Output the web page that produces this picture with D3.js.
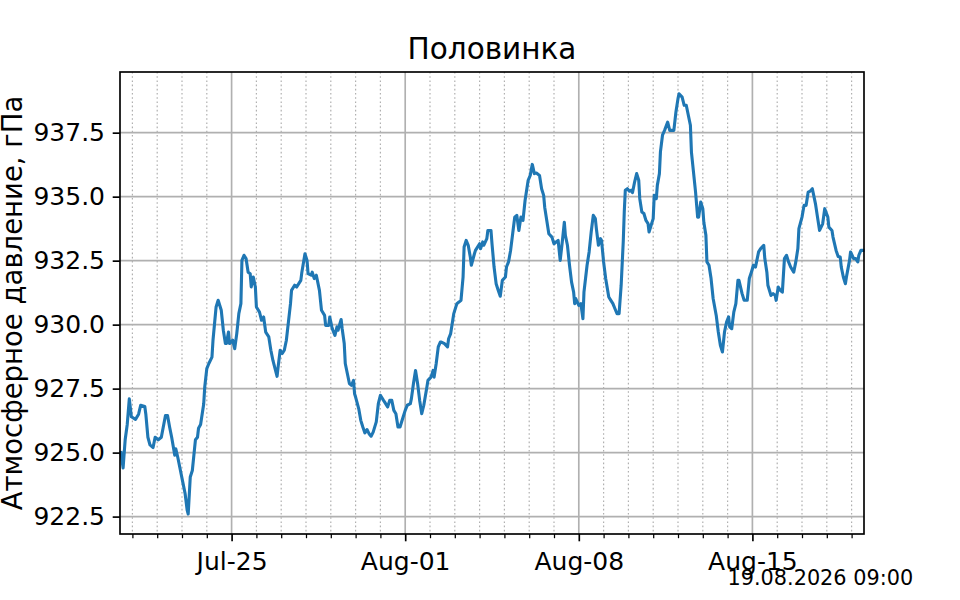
<!DOCTYPE html>
<html lang="ru">

<head>
    <meta charset="UTF-8">
    <title>Половинка</title>
    <script src='https://d3js.org/d3.v7.min.js'></script>
    <style>
        body { margin: 0; background: #fff; }
        text { font-family: "DejaVu Sans", sans-serif; fill: #000; }
    </style>
</head>

<body>
    <script>
        // Station and labels
        const stationName = "Половинка";
        const yLabel = "Атмосферное давление, гПа";
        const stampText = "19.08.2026 09:00";

        // hours counted from 20.07.2026 12:00
        const hours = [
            1, 3, 5, 7, 9, 11, 15, 18, 20, 24, 25, 27, 29, 32, 34, 37, 40, 44, 46, 48,
            50, 53, 54, 56, 58, 61, 63, 65, 66, 68, 70, 73, 75, 76, 78, 81, 82, 84, 86, 89,
            90, 93, 95, 98, 100, 102, 103, 105, 106, 109, 111, 113, 115, 117, 118, 120, 122, 124, 126, 127,
            129, 131, 132, 135, 137, 139, 141, 144, 146, 148, 152, 153, 155, 157, 159, 161, 165, 166, 169, 171,
            173, 175, 176, 179, 181, 182, 185, 186, 188, 190, 193, 195, 198, 199, 202, 203, 205, 206, 208, 210,
            211, 214, 215, 217, 218, 220, 222, 224, 226, 227, 228, 231, 233, 235, 237, 239, 241, 243, 245, 248,
            250, 252, 255, 256, 259, 261, 263, 265, 267, 269, 271, 274, 276, 278, 281, 282, 284, 286, 288, 290,
            292, 294, 297, 298, 301, 303, 304, 306, 308, 310, 311, 314, 317, 318, 320, 322, 323, 326, 328, 330,
            332, 333, 335, 337, 339, 340, 343, 344, 346, 348, 349, 351, 352, 355, 356, 359, 360, 362, 364, 366,
            368, 370, 373, 374, 376, 378, 380, 382, 384, 386, 388, 390, 392, 395, 397, 399, 401, 403, 406, 408,
            410, 411, 413, 415, 418, 420, 422, 424, 426, 428, 430, 431, 433, 435, 437, 439, 440, 441, 444, 446,
            448, 449, 452, 454, 456, 458, 460, 461, 463, 465, 466, 468, 470, 473, 475, 477, 479, 481, 483, 485,
            487, 488, 489, 491, 493, 495, 496, 498, 500, 502, 503, 505, 507, 509, 511, 512, 514, 516, 517, 519,
            520, 522, 523, 525, 527, 530, 532, 534, 536, 538, 540, 541, 544, 546, 548, 552, 553, 555, 557, 559,
            560, 562, 564, 565, 567, 568, 570, 572, 574, 577, 579, 581, 583, 585, 587, 589, 590, 592, 594, 596,
            598, 599, 602, 604, 607, 609, 611, 613, 615, 616, 618, 620, 623, 624, 626, 627, 630, 632, 634, 635,
            637, 639, 641, 643, 645, 647, 649, 652, 654, 656, 657, 660, 662, 664, 666, 668, 670, 673, 675, 677,
            680, 682, 685, 686, 689, 690, 693, 695, 697, 698, 700, 702, 703, 706, 707, 710, 712, 714, 715, 717,
            719
        ];

        // pressure, hPa
        const pressure = [
            925.0, 924.4, 925.5, 926.1, 927.1, 926.4, 926.3, 926.5, 926.85, 926.8, 926.5, 925.6, 925.3, 925.2, 925.6, 925.5, 925.6, 926.45, 926.45, 926.0,
            925.6, 924.9, 925.15, 924.8, 924.4, 923.8, 923.4, 922.75, 922.6, 924.05, 924.3, 925.5, 925.6, 925.95, 926.1, 926.9, 927.56, 928.28, 928.48, 928.73,
            929.39, 930.69, 930.95, 930.56, 929.78, 929.26, 929.26, 929.71, 929.26, 929.39, 929.06, 929.65, 930.43, 930.82, 932.51, 932.71, 932.58, 932.05, 931.99, 931.47,
            931.86, 931.47, 930.69, 930.49, 930.17, 930.3, 929.71, 929.52, 929.0, 928.6, 927.98, 928.34, 929.0, 928.87, 929.0, 929.39, 930.82, 931.34, 931.54, 931.47,
            931.6, 931.73, 932.05, 932.77, 932.51, 931.99, 931.93, 932.05, 931.8, 931.93, 931.34, 930.56, 930.36, 929.97, 929.97, 930.3, 929.91, 929.78, 929.58, 929.91,
            929.78, 930.2, 929.84, 929.26, 928.48, 928.09, 927.7, 927.63, 927.82, 927.3, 927.17, 926.72, 926.26, 926.0, 925.77, 925.9, 925.74, 925.64, 925.8, 926.2,
            926.91, 927.24, 927.04, 926.98, 926.78, 927.04, 927.04, 926.65, 926.52, 926.0, 926.0, 926.39, 926.65, 926.85, 926.91, 927.11, 927.7, 928.21, 927.7, 927.04,
            926.52, 926.85, 927.56, 927.82, 927.95, 928.21, 927.95, 928.48, 929.13, 929.32, 929.32, 929.26, 929.13, 929.45, 929.65, 930.17, 930.43, 930.82, 930.88, 930.95,
            931.86, 933.03, 933.29, 933.1, 932.64, 932.32, 932.77, 932.9, 933.03, 933.16, 932.97, 933.23, 933.1, 933.36, 933.68, 933.68, 933.16, 932.25, 931.6, 931.34,
            931.11, 931.73, 931.86, 932.25, 932.45, 932.9, 933.55, 934.2, 934.27, 933.68, 934.2, 934.07, 934.85, 935.64, 935.83, 936.26, 935.9, 935.92, 935.83, 935.31,
            935.05, 934.59, 934.07, 933.55, 933.42, 933.16, 933.23, 933.29, 932.51, 933.23, 934.0, 933.49, 933.1, 932.32, 931.66, 931.27, 930.82, 931.02, 930.75, 930.82,
            930.23, 931.27, 932.32, 932.84, 933.62, 934.27, 934.14, 933.75, 933.1, 933.36, 933.29, 932.45, 931.8, 931.08, 930.95, 930.82, 930.62, 930.43, 930.43, 931.54,
            933.23, 934.4, 935.25, 935.31, 935.21, 935.25, 935.16, 935.57, 935.9, 935.64, 934.92, 934.4, 934.34, 934.07, 933.95, 933.62, 933.88, 934.14, 935.05, 934.92,
            935.44, 935.9, 936.75, 937.4, 937.59, 937.91, 937.59, 937.59, 937.59, 938.31, 938.83, 939.02, 938.89, 938.57, 938.57, 937.79, 936.74, 935.96, 935.18, 934.2,
            934.2, 934.79, 934.53, 934.0, 933.49, 932.45, 932.32, 931.8, 931.02, 930.36, 929.71, 929.19, 928.93, 929.71, 930.1, 930.3, 929.91, 929.84, 930.49, 930.82,
            931.73, 931.73, 931.21, 930.95, 930.95, 931.8, 932.05, 932.32, 932.25, 932.45, 932.84, 932.97, 933.1, 932.58, 932.05, 931.54, 931.14, 931.21, 931.14, 930.95,
            931.47, 931.34, 931.27, 932.58, 932.71, 932.45, 932.25, 932.05, 932.45, 932.97, 933.75, 934.2, 934.66, 934.66, 935.18, 935.22, 935.31, 934.73, 934.2, 933.68,
            933.94, 934.53, 934.2, 933.81, 933.68, 933.42, 932.9, 932.66, 932.64, 932.25, 931.86, 931.6, 931.86, 932.51, 932.84, 932.58, 932.58, 932.45, 932.71, 932.9,
            932.9
        ];

        // axis ticks
        const yTicks = [922.5, 925.0, 927.5, 930.0, 932.5, 935.0, 937.5];
        const xTickDates = ["2026-07-25", "2026-08-01", "2026-08-08", "2026-08-15"];

        const startTime = new Date(2026, 6, 20, 12, 0);
        const endTime = d3.timeHour.offset(startTime, 720);

        const data = hours.map((h, i) => ({ t: d3.timeHour.offset(startTime, h), v: pressure[i] }));

        // Set Dimensions
        const xSize = 960; const ySize = 600;
        const margin = { top: 72, right: 96, bottom: 66, left: 120 };
        const xMax = xSize - margin.left - margin.right;
        const yMax = ySize - margin.top - margin.bottom;

        const svgRoot = d3.select("body")
            .append("svg")
            .attr("width", xSize)
            .attr("height", ySize);

        svgRoot.append("rect").attr("width", xSize).attr("height", ySize).attr("fill", "#fff");

        const svg = svgRoot.append("g")
            .attr("transform", "translate(" + margin.left + "," + margin.top + ")");

        const x = d3.scaleTime().domain([startTime, endTime]).range([0, xMax]);
        const y = d3.scaleLinear().domain([921.82, 939.87]).range([yMax, 0]);

        const majorDates = xTickDates.map(s => d3.timeParse("%Y-%m-%d")(s));
        // one minor tick per day, majors excluded
        const minorDates = d3.timeDay.range(d3.timeDay.ceil(startTime), endTime, 1)
            .filter(d => !majorDates.some(m => +m === +d));

        // minor grid (dotted, daily)
        svg.append("g")
            .selectAll("line")
            .data(minorDates)
            .join("line")
            .attr("x1", d => x(d)).attr("x2", d => x(d))
            .attr("y1", 0).attr("y2", yMax)
            .attr("stroke", "#b0b0b0")
            .attr("stroke-width", 1.2)
            .attr("stroke-dasharray", "1.6,2.6");

        // major grid
        svg.append("g")
            .selectAll("line")
            .data(majorDates)
            .join("line")
            .attr("x1", d => x(d)).attr("x2", d => x(d))
            .attr("y1", 0).attr("y2", yMax)
            .attr("stroke", "#b0b0b0")
            .attr("stroke-width", 1.67);
        svg.append("g")
            .selectAll("line")
            .data(yTicks)
            .join("line")
            .attr("x1", 0).attr("x2", xMax)
            .attr("y1", d => y(d)).attr("y2", d => y(d))
            .attr("stroke", "#b0b0b0")
            .attr("stroke-width", 1.67);

        // the line
        svg.append("path")
            .datum(data)
            .attr("fill", "none")
            .attr("stroke", "#1f77b4")
            .attr("stroke-width", 3.1)
            .attr("stroke-linejoin", "round")
            .attr("stroke-linecap", "square")
            .attr("d", d3.line()
                .x(d => x(d.t))
                .y(d => y(d.v)));

        // X Axis: minor ticks then major ticks
        svg.append("g")
            .attr("transform", "translate(0," + yMax + ")")
            .call(d3.axisBottom(x).tickValues(minorDates).tickSize(4.2).tickFormat(""))
            .call(g => g.select(".domain").remove())
            .call(g => g.selectAll(".tick line").attr("stroke", "#000").attr("stroke-width", 1.25));

        svg.append("g")
            .attr("transform", "translate(0," + yMax + ")")
            .call(d3.axisBottom(x).tickValues(majorDates).tickSize(7.3).tickPadding(11)
                .tickFormat(d3.timeFormat("%b-%d")))
            .call(g => g.select(".domain").remove())
            .call(g => g.selectAll(".tick line").attr("stroke", "#000").attr("stroke-width", 1.67))
            .call(g => g.selectAll(".tick text").attr("font-size", 25).attr("font-family", "DejaVu Sans").attr("fill", "#000"));

        // Y Axis
        svg.append("g")
            .call(d3.axisLeft(y).tickValues(yTicks).tickSize(7.3).tickPadding(7.7)
                .tickFormat(d3.format(".1f")))
            .call(g => g.select(".domain").remove())
            .call(g => g.selectAll(".tick line").attr("stroke", "#000").attr("stroke-width", 1.67))
            .call(g => g.selectAll(".tick text").attr("font-size", 25).attr("font-family", "DejaVu Sans").attr("fill", "#000"));

        // spines
        svg.append("rect")
            .attr("width", xMax).attr("height", yMax)
            .attr("fill", "none")
            .attr("stroke", "#000")
            .attr("stroke-width", 1.67);

        // title
        svgRoot.append("text")
            .attr("x", margin.left + xMax / 2)
            .attr("y", 59)
            .attr("text-anchor", "middle")
            .attr("font-size", 29.5)
            .text(stationName);

        // y label
        svgRoot.append("text")
            .attr("transform", "translate(22," + (margin.top + yMax / 2) + ") rotate(-90)")
            .attr("text-anchor", "middle")
            .attr("font-size", 27.5)
            .text(yLabel);

        // time stamp
        svgRoot.append("text")
            .attr("x", 727.5)
            .attr("y", 585)
            .attr("font-size", 20.8)
            .text(stampText);
    </script>
</body>

</html>
